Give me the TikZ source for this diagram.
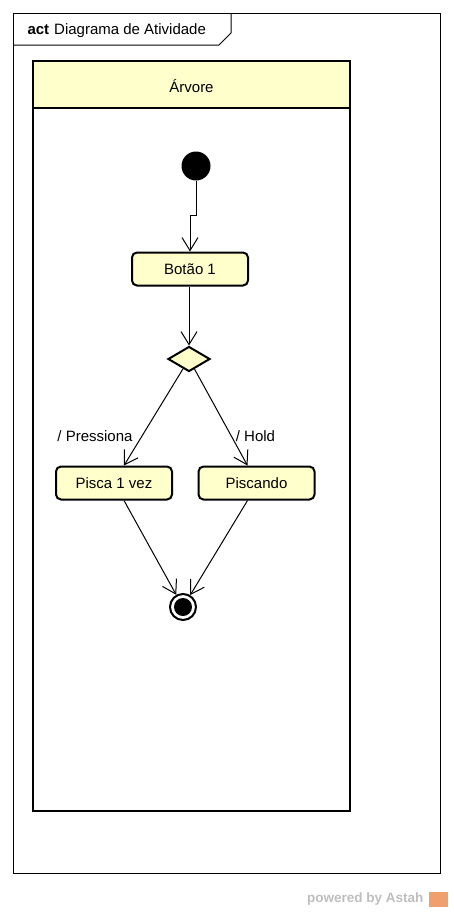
\documentclass[tikz,border=0pt]{standalone}
\usepackage{fontspec}
\setmainfont{Liberation Sans}
\usepackage{tikz}
\usetikzlibrary{arrows.meta, calc, shapes.geometric}
\usepackage{xcolor}
\definecolor{astahyellow}{RGB}{255,255,204}
\definecolor{astahgray}{RGB}{190,190,190}
\definecolor{astahorange}{RGB}{240,160,110}

\begin{document}
\begin{tikzpicture}[x=1pt, y=-1pt, font=\fontsize{15}{18}\selectfont,
  flow/.style={-{Straight Barb[length=13pt,width=16pt]}, line width=1pt},
  action/.style={draw, line width=2pt, rounded corners=5pt, fill=astahyellow,
    minimum width=116pt, minimum height=33pt, inner sep=0pt}]
  \useasboundingbox (0,0) rectangle (453,913);
  % frame
  \draw[line width=1pt] (13,13) rectangle (440,873);
  \draw[line width=1pt] (13,45) -- (219,45) -- (231,33) -- (231,13);
  \node[anchor=west] (title) at (24,31) {\textbf{act}\hspace{5pt}Diagrama de Atividade};
  % partition
  \draw[line width=2pt, fill=astahyellow] (33,61) rectangle (350,108);
  \draw[line width=2pt] (33,108) rectangle (350,811);
  \node (lane) at (191.5,86) {Árvore};
  % nodes
  \node[circle, fill=black, minimum size=29pt, inner sep=0pt] (init) at (196,166) {};
  \node[action] (botao) at (190,269) {Botão 1};
  \node[diamond, draw, line width=2pt, fill=astahyellow, aspect=1.7,
    minimum width=42pt, minimum height=25pt, inner sep=0pt] (dec) at (189,359) {};
  \node[action] (pisca) at (114,483) {Pisca 1 vez};
  \node[action] (piscando) at (256.5,483) {Piscando};
  \node[circle, draw, line width=2pt, fill=white, minimum size=26pt, inner sep=0pt] (final) at (183,607) {};
  \fill (final) circle (9pt);
  % edges
  \draw[flow] (init.south) -- ++(0,35) -| (botao.north);
  \draw[flow] (botao.south -| dec.north) -- (dec.north);
  \draw[flow] (dec) -- ([xshift=10pt]pisca.north);
  \draw[flow] (dec) -- ([xshift=-9pt]piscando.north);
  \node (lblp) at (95,436) {/ Pressiona};
  \node (lblh) at (255.5,436) {/ Hold};
  \draw[flow] ([xshift=10pt]pisca.south) -- (final);
  \draw[flow] ([xshift=-9pt]piscando.south) -- (final);
  % footer
  \node[anchor=east, text=astahgray, font=\fontsize{13.5}{16}\selectfont\bfseries] (astah) at (427,899) {powered by Astah};
  \fill[astahorange] (429,892) rectangle (448,907);
\end{tikzpicture}
\end{document}
